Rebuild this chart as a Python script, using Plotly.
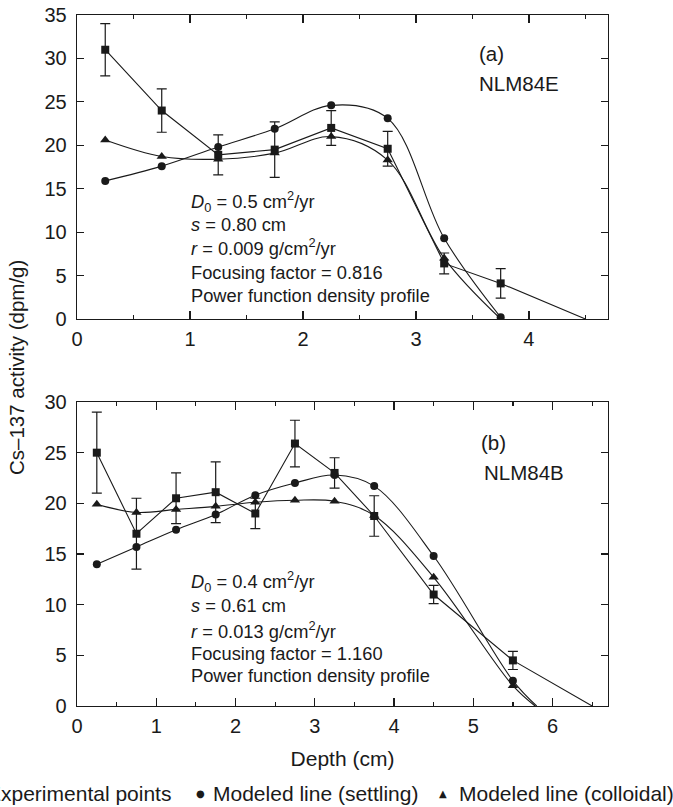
import plotly.graph_objects as go

# ---------------- data ----------------
# Panel (a) NLM84E
depth_a = [0.25, 0.75, 1.25, 1.75, 2.25, 2.75, 3.25, 3.75]
exp_a = [31.0, 24.0, 18.9, 19.5, 22.0, 19.6, 6.4, 4.1]
exp_err_a = [3.0, 2.5, 2.3, 3.2, 2.0, 2.0, 1.2, 1.7]
exp_end_a = [4.5, 0.0]
settling_a = [15.9, 17.6, 19.8, 21.9, 24.6, 23.1, 9.3, 0.2]
colloidal_a = [20.6, 18.7, 18.4, 19.1, 21.0, 18.3, 7.0, 0.0]

# Panel (b) NLM84B
depth_b = [0.25, 0.75, 1.25, 1.75, 2.25, 2.75, 3.25, 3.75, 4.5, 5.5]
exp_b = [25.0, 17.0, 20.5, 21.1, 19.0, 25.9, 23.0, 18.75, 11.0, 4.5]
exp_err_b = [4.0, 3.5, 2.5, 3.0, 1.5, 2.3, 1.5, 2.0, 0.9, 0.9]
exp_end_b = [6.5, 0.0]
settling_b = [14.0, 15.7, 17.4, 18.9, 20.8, 22.0, 22.8, 21.7, 14.8, 2.5]
settling_end_b = [5.8, 0.0]
colloidal_b = [19.9, 19.1, 19.4, 19.7, 20.1, 20.3, 20.2, 18.8, 12.7, 2.0]
colloidal_end_b = [5.78, 0.0]

params_a = ["<i>D</i><sub>0</sub> = 0.5 cm<sup>2</sup>/yr", "<i>s</i> = 0.80 cm",
            "<i>r</i> = 0.009 g/cm<sup>2</sup>/yr", "Focusing factor = 0.816",
            "Power function density profile"]
params_b = ["<i>D</i><sub>0</sub> = 0.4 cm<sup>2</sup>/yr", "<i>s</i> = 0.61 cm",
            "<i>r</i> = 0.013 g/cm<sup>2</sup>/yr", "Focusing factor = 1.160",
            "Power function density profile"]
legend_names = ["Experimental points", "Modeled line (settling)", "Modeled line (colloidal)"]

# ---------------- styling ----------------
W, H = 673, 807
ML, MR, MT, MB = 77, 65, 15, 101
PW = W - ML - MR
PH = H - MT - MB
FONT = "Liberation Sans, Arial, Helvetica, sans-serif"
INK = "#1a1a1a"
LW = 1.1


def px_x(px):
    return (px - ML) / PW


def px_y(py):
    return (H - MB - py) / PH


fig = go.Figure()


def add_panel(xa, ya, depth, exp, err, exp_end, settl, settl_end, coll, coll_end):
    fig.add_trace(go.Scatter(x=depth + [exp_end[0]], y=exp + [exp_end[1]], mode="lines",
                             line=dict(color=INK, width=LW), xaxis=xa, yaxis=ya,
                             showlegend=False, hoverinfo="skip"))
    sx = depth + ([settl_end[0]] if settl_end else [])
    sy = settl + ([settl_end[1]] if settl_end else [])
    fig.add_trace(go.Scatter(x=sx, y=sy, mode="lines", line=dict(color=INK, width=LW, shape="spline", smoothing=1),
                             xaxis=xa, yaxis=ya, showlegend=False, hoverinfo="skip"))
    cx = depth + ([coll_end[0]] if coll_end else [])
    cy = coll + ([coll_end[1]] if coll_end else [])
    fig.add_trace(go.Scatter(x=cx, y=cy, mode="lines", line=dict(color=INK, width=LW, shape="spline", smoothing=1),
                             xaxis=xa, yaxis=ya, showlegend=False, hoverinfo="skip"))
    fig.add_trace(go.Scatter(x=depth, y=coll, mode="markers", name=legend_names[2],
                             marker=dict(symbol="triangle-up", size=9, color=INK),
                             xaxis=xa, yaxis=ya, showlegend=False))
    fig.add_trace(go.Scatter(x=depth, y=settl, mode="markers", name=legend_names[1],
                             marker=dict(symbol="circle", size=8, color=INK),
                             xaxis=xa, yaxis=ya, showlegend=False))
    fig.add_trace(go.Scatter(x=depth, y=exp, mode="markers", name=legend_names[0],
                             marker=dict(symbol="square", size=8, color=INK),
                             error_y=dict(type="data", array=err, visible=True, color=INK,
                                          thickness=1.2, width=5),
                             xaxis=xa, yaxis=ya, showlegend=False))


add_panel("x", "y", depth_a, exp_a, exp_err_a, exp_end_a, settling_a, None, colloidal_a, None)
add_panel("x2", "y2", depth_b, exp_b, exp_err_b, exp_end_b, settling_b, settling_end_b, colloidal_b, colloidal_end_b)

axis_common = dict(showline=True, linewidth=1.3, linecolor=INK, mirror="ticks", ticks="inside",
                   tickcolor=INK, tickwidth=1.2, showgrid=False, zeroline=False,
                   tickfont=dict(family=FONT, size=20, color=INK), automargin=False, fixedrange=True)

top_bottom = px_y(319)
bot_top = px_y(402)

fig.update_layout(
    width=W, height=H,
    margin=dict(l=ML, r=MR, t=MT, b=MB, autoexpand=False),
    paper_bgcolor="white", plot_bgcolor="white",
    showlegend=False,
    font=dict(family=FONT, size=20, color=INK),
    xaxis=dict(axis_common, domain=[0, 1], range=[0, 4.7], dtick=1, tick0=0, ticklen=8,
               minor=dict(dtick=0.5, ticklen=4, ticks="inside", tickcolor=INK, tickwidth=1.2),
               anchor="y", ticklabelstandoff=2),
    yaxis=dict(axis_common, domain=[top_bottom, 1], range=[0, 35], dtick=5, ticklen=7,
               anchor="x", ticklabelstandoff=5),
    xaxis2=dict(axis_common, domain=[0, 1], range=[0, 6.7], dtick=1, tick0=0, ticklen=8,
                minor=dict(dtick=0.5, ticklen=4, ticks="inside", tickcolor=INK, tickwidth=1.2),
                anchor="y2", ticklabelstandoff=2,
                title=dict(text="Depth (cm)", font=dict(family=FONT, size=21, color=INK), standoff=15)),
    yaxis2=dict(axis_common, domain=[0, bot_top], range=[0, 30], dtick=5, ticklen=7,
                anchor="x2", ticklabelstandoff=5),
)

ann = []
ys_a = [201.7, 224, 246.7, 272.7, 295]
ys_b = [581.7, 605, 630, 653.3, 675]
for t, py in zip(params_a, ys_a):
    ann.append(dict(text=t, xref="paper", yref="paper", x=px_x(189), y=px_y(py), xanchor="left",
                    yanchor="middle", showarrow=False, font=dict(family=FONT, size=18.3, color=INK)))
for t, py in zip(params_b, ys_b):
    ann.append(dict(text=t, xref="paper", yref="paper", x=px_x(189), y=px_y(py), xanchor="left",
                    yanchor="middle", showarrow=False, font=dict(family=FONT, size=18.3, color=INK)))
for t, px, py in [("(a)", 477, 53), ("NLM84E", 477, 83), ("(b)", 479, 442), ("NLM84B", 482, 472)]:
    ann.append(dict(text=t, xref="paper", yref="paper", x=px_x(px), y=px_y(py), xanchor="left",
                    yanchor="middle", showarrow=False, font=dict(family=FONT, size=20.5, color=INK)))
ann.append(dict(text="Cs\u2013137 activity (dpm/g)", xref="paper", yref="paper", x=px_x(16), y=px_y(368),
                xanchor="center", yanchor="middle", textangle=-90, showarrow=False,
                font=dict(family=FONT, size=20.5, color=INK)))
LEG_Y = 793
ann.append(dict(text=legend_names[0], xref="paper", yref="paper", x=px_x(173), y=px_y(LEG_Y),
                xanchor="right", yanchor="middle", showarrow=False, font=dict(family=FONT, size=21, color=INK)))
ann.append(dict(text=legend_names[1], xref="paper", yref="paper", x=px_x(211), y=px_y(LEG_Y),
                xanchor="left", yanchor="middle", showarrow=False, font=dict(family=FONT, size=21, color=INK)))
ann.append(dict(text=legend_names[2], xref="paper", yref="paper", x=px_x(457), y=px_y(LEG_Y),
                xanchor="left", yanchor="middle", showarrow=False, font=dict(family=FONT, size=21, color=INK)))
for g, px in [("\u25a0", -30), ("\u25cf", 200), ("\u25b2", 443)]:
    ann.append(dict(text=g, xref="paper", yref="paper", x=px_x(px), y=px_y(LEG_Y + 1),
                    xanchor="center", yanchor="middle", showarrow=False,
                    font=dict(family="DejaVu Sans", size=10, color=INK)))
fig.update_layout(annotations=ann)

fig.write_html("out.html", config={"displayModeBar": False, "staticPlot": True},
               post_script="document.body.style.margin='0px';document.body.style.padding='0px';"
                           "document.documentElement.style.overflow='hidden';")
